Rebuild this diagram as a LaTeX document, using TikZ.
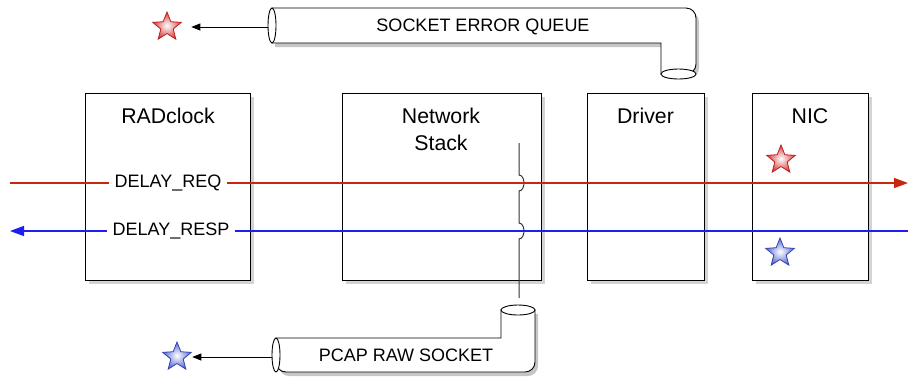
\documentclass[tikz,border=0pt]{standalone}
\usepackage{fontspec}
\setmainfont{Liberation Sans}
\usetikzlibrary{shapes.geometric,shadows,arrows.meta}
\definecolor{redline}{RGB}{200,38,15}
\definecolor{blueline}{RGB}{30,30,240}
\definecolor{redstar}{RGB}{215,60,60}
\definecolor{redstaredge}{RGB}{190,30,30}
\definecolor{bluestar}{RGB}{90,105,210}
\definecolor{bluestaredge}{RGB}{50,65,180}
\tikzset{
  box/.style={draw=black, fill=white, line width=1pt, rectangle, inner sep=0pt,
    anchor=north west,
    drop shadow={shadow xshift=3pt, shadow yshift=-3pt, opacity=0.35}},
  pipe/.style={draw=black, fill=white, line width=0.9pt,
    drop shadow={shadow xshift=3pt, shadow yshift=-4pt, opacity=0.45}},
  capend/.style={draw=black, fill=white, line width=0.9pt},
  title/.style={font=\fontsize{21.3}{26}\selectfont, align=center, inner sep=0pt},
  lbl/.style={font=\fontsize{18}{21}\selectfont, inner sep=0pt},
  linelbl/.style={font=\fontsize{18}{21}\selectfont, fill=white, inner xsep=6pt, inner ysep=2pt},
  mystar/.style={star, star points=5, star point ratio=2.3, minimum size=30pt, inner sep=0pt, line width=0.8pt},
  redstarst/.style={mystar, draw=redstaredge, inner color=white, outer color=redstar},
  bluestarst/.style={mystar, draw=bluestaredge, inner color=white, outer color=bluestar},
  smallarrow/.style={draw=black, line width=0.8pt, -{Triangle[length=9pt,width=7pt]}},
}
\begin{document}
\begin{tikzpicture}[x=1pt,y=-1pt]
\useasboundingbox (0,0) rectangle (909,376);

% boxes
\node[box, minimum width=165pt, minimum height=187pt] (rad) at (85,93) {};
\node[box, minimum width=199pt, minimum height=187pt] (net) at (342,93) {};
\node[box, minimum width=117pt, minimum height=187pt] (drv) at (587,93) {};
\node[box, minimum width=116pt, minimum height=187pt] (nic) at (752,93) {};

\node[title] (radt) at (168,116) {RADclock};
\node[title] (nett) at (441,129.5) {Network\\[1pt]Stack};
\node[title] (drvt) at (645.5,116) {Driver};
\node[title] (nict) at (810,116) {NIC};

% top pipe
\path[pipe] (272,8) {[rounded corners=10pt] -- (696,8) -- (696,74)} -- (661,74) -- (661,43) -- (272,43) -- cycle;
\draw[capend] (272,25.5) ellipse [x radius=4, y radius=17.5];
\draw[capend] (678.5,74) ellipse [x radius=17.5, y radius=5];
\node[lbl] (seq) at (483,27) {SOCKET ERROR QUEUE};
\coordinate (seqend) at (268,27);

% bottom pipe
\path[pipe] (276,338) -- (501,338) -- (501,310) -- (535,310) {[rounded corners=10pt] -- (535,372) -- (276,372)} -- cycle;
\draw[capend] (276,355) ellipse [x radius=4, y radius=17];
\draw[capend] (518,310) ellipse [x radius=17, y radius=5];
\node[lbl] (pcap) at (406,355) {PCAP RAW SOCKET};
\coordinate (pcapend) at (272,357);

% stars
\node[redstarst] (s1) at (167,27) {};
\node[redstarst] (s2) at (781,160) {};
\node[bluestarst] (s3) at (780,253) {};
\node[bluestarst] (s4) at (177,357) {};

\draw[smallarrow, shorten >=15pt] (seqend) -- (s1);
\draw[smallarrow, shorten >=6pt] (pcapend) -- (s4);

% wire with jumps
\coordinate (wtop) at (519,143);
\coordinate (wbot) at (519,298);
\draw[line width=1pt, black!80] (wtop) -- (519,175)
  arc[start angle=-90, end angle=90, x radius=5, y radius=8] -- (519,223)
  arc[start angle=-90, end angle=90, x radius=5, y radius=8] -- (wbot);

% red and blue lines
\coordinate (rl) at (10,183);
\coordinate (rr) at (908,183);
\coordinate (bl) at (10,231);
\coordinate (br) at (908,231);
\draw[redline, line width=1.4pt, -{Triangle[length=14pt,width=10pt]}] (rl) -- (rr);
\draw[blueline, line width=1.4pt, -{Triangle[length=14pt,width=10pt]}] (br) -- (bl);
\node[linelbl] (req) at (168,183) {DELAY\_REQ};
\node[linelbl] (resp) at (171,231) {DELAY\_RESP};
\end{tikzpicture}
\end{document}
